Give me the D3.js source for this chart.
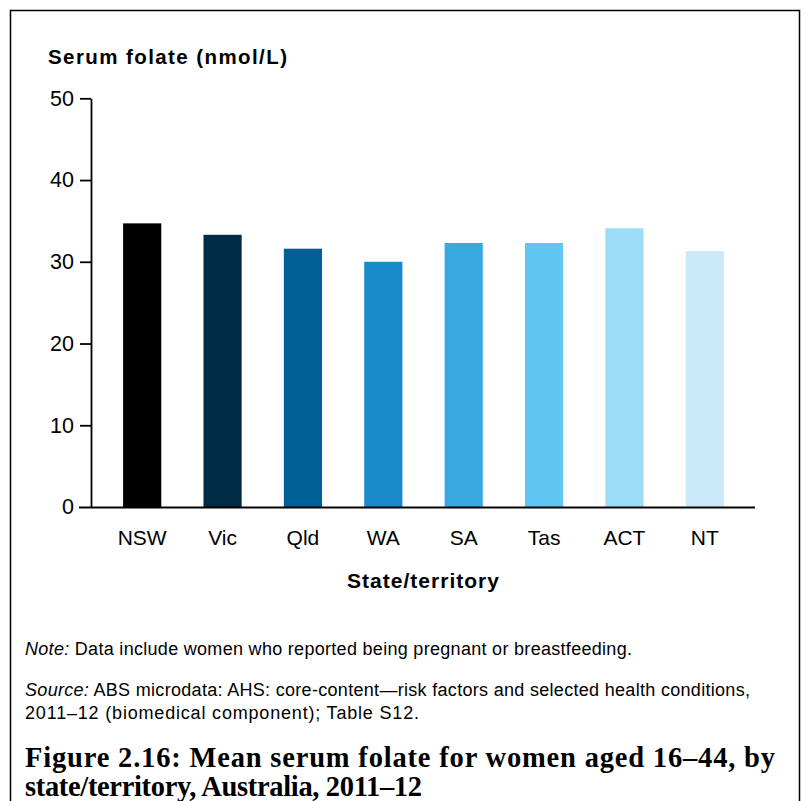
<!DOCTYPE html>
<html>
<head>
<meta charset="utf-8">
<script src="https://cdn.jsdelivr.net/npm/d3@7"></script>
<style>
  html, body { margin: 0; padding: 0; background: #fff; }
  svg { display: block; }
  text { font-family: "Liberation Sans", Arial, sans-serif; fill: #000; }
</style>
</head>
<body>
<svg id="chart" width="805" height="801"></svg>
<script>
const categories = ["NSW", "Vic", "Qld", "WA", "SA", "Tas", "ACT", "NT"];
const values = [34.7, 33.3, 31.6, 30.0, 32.3, 32.3, 34.1, 31.3];
const barColors = ["#000000", "#002b45", "#005f96", "#1b8aca", "#3aa9e0", "#61c5f1", "#9cdcf9", "#cce9f9"];
const yTicks = [0, 10, 20, 30, 40, 50];
const yTitle = "Serum folate (nmol/L)";
const xTitle = "State/territory";
const noteLines = [
  {italic: "Note:", rest: " Data include women who reported being pregnant or breastfeeding."},
  {italic: "Source:", rest: " ABS microdata: AHS: core-content\u2014risk factors and selected health conditions,"},
  {italic: "", rest: "2011\u201312 (biomedical component); Table S12."}
];
const figTitle = [
  "Figure 2.16: Mean serum folate for women aged 16\u201344, by",
  "state/territory, Australia, 2011\u201312"
];

const svg = d3.select("#chart");

// frame
svg.append("path")
  .attr("d", "M10.5,801 L10.5,10.5 L799.5,10.5 L799.5,801")
  .attr("fill", "none").attr("stroke", "#000").attr("stroke-width", 1.5);

const x = d3.scaleBand().domain(categories).range([102, 745])
  .paddingInner(0.525).paddingOuter(0.2625);
const y = d3.scaleLinear().domain([0, 50]).range([507, 98.3]);

// bars
svg.append("g").selectAll("rect")
  .data(categories)
  .join("rect")
  .attr("x", d => x(d))
  .attr("width", x.bandwidth())
  .attr("y", (d, i) => y(values[i]))
  .attr("height", (d, i) => y(0) - y(values[i]))
  .attr("fill", (d, i) => barColors[i]);

// y axis
const yAxis = svg.append("g")
  .attr("transform", "translate(91,0)")
  .call(d3.axisLeft(y).tickValues(yTicks).tickSize(11).tickPadding(6).tickSizeOuter(0));
yAxis.select(".domain").attr("stroke-width", 1.8);
yAxis.selectAll(".tick line").attr("stroke-width", 1.8);
yAxis.selectAll("text").style("font-size", "21.5px").style("font-family", "'Liberation Sans', Arial, sans-serif").attr("fill", "#000");
yAxis.selectAll(".tick").filter(d => d === 0).select("line").remove();

// x axis baseline
const xAxis = svg.append("g")
  .attr("transform", `translate(0,${y(0)})`)
  .call(d3.axisBottom(x).tickSize(0).tickPadding(23).tickSizeOuter(0));
xAxis.select(".domain").attr("d", "M79,0.5H755").attr("stroke-width", 1.8);
xAxis.selectAll("text").style("font-size", "21px").style("font-family", "'Liberation Sans', Arial, sans-serif").attr("fill", "#000");

// axis titles
svg.append("text").attr("x", 48).attr("y", 64)
  .attr("textLength", 239).attr("lengthAdjust", "spacing")
  .style("font-size", "20.5px").style("font-weight", "bold").text(yTitle);
svg.append("text").attr("x", 347).attr("y", 588)
  .attr("textLength", 152).attr("lengthAdjust", "spacing")
  .style("font-size", "21px").style("font-weight", "bold").text(xTitle);

// notes
const noteY = [655, 696, 719];
const noteW = [607, 725, 394];
noteLines.forEach((n, i) => {
  const t = svg.append("text").attr("x", 25).attr("y", noteY[i]).style("font-size", "18px")
    .attr("textLength", noteW[i]).attr("lengthAdjust", "spacing");
  if (n.italic) t.append("tspan").style("font-style", "italic").text(n.italic);
  t.append("tspan").text(n.rest);
});

// figure title
const titleY = [767, 796];
const titleW = [750, 397];
figTitle.forEach((line, i) => {
  svg.append("text").attr("x", 25).attr("y", titleY[i])
    .attr("textLength", titleW[i]).attr("lengthAdjust", "spacing")
    .style("font-family", "'Liberation Serif', 'DejaVu Serif', serif")
    .style("font-weight", "bold").style("font-size", "28.5px")
    .text(line);
});
</script>
</body>
</html>
